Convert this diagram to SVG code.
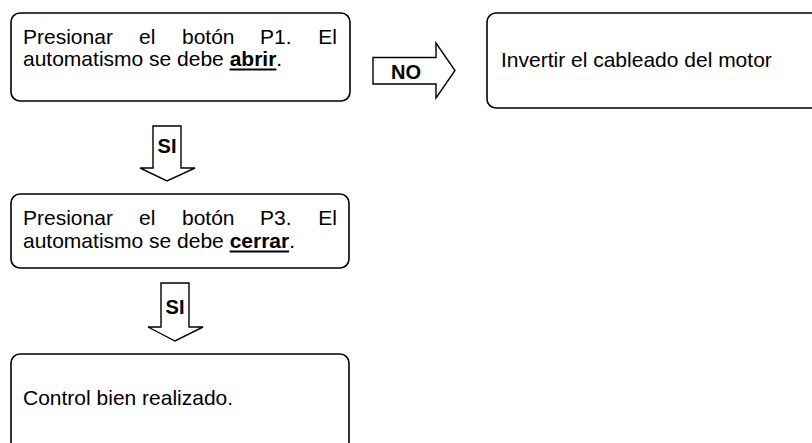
<svg xmlns="http://www.w3.org/2000/svg" width="812" height="443" viewBox="0 0 812 443">
<style>
.box{fill:#fff;stroke:#000;stroke-width:1.6}
.arrow{fill:#fff;stroke:#000;stroke-width:1.4;stroke-linejoin:miter}
.t{font-family:"Liberation Sans",Arial,sans-serif;font-size:21px;fill:#000}
.lbl{font-family:"Liberation Sans",Arial,sans-serif;font-size:20px;font-weight:bold;fill:#000;text-anchor:middle}
.b{font-weight:bold}
</style>
<rect width="812" height="443" fill="#fff"/>
<g id="connectors">
<g id="arrow-no">
<polygon class="arrow" points="373,57.5 436,57.5 436,43 455,70.5 436,98 436,84 373,84"/>
<text class="lbl" x="406" y="79">NO</text>
</g>
<g id="arrow-si1">
<polygon class="arrow" points="153,126 181,126 181,168 195,168 167,181 140,168 153,168"/>
<text class="lbl" x="167" y="153">SI</text>
</g>
<g id="arrow-si2">
<polygon class="arrow" points="161,283 189,283 189,327 203,327 175,341 148,327 161,327"/>
<text class="lbl" x="175" y="314">SI</text>
</g>
</g>
<g id="node-p1">
<rect class="box" x="11" y="13" width="339" height="88" rx="9"/>
<text class="t" y="44"><tspan x="23">Presionar</tspan><tspan x="139">el</tspan><tspan x="182">botón</tspan><tspan x="260">P1.</tspan><tspan x="337" text-anchor="end">El</tspan></text>
<text class="t" x="23" y="66">automatismo se debe <tspan class="b">abrir</tspan>.</text>
<rect x="229.6" y="68.5" width="46.8" height="2" fill="#000"/>
</g>
<g id="node-invertir">
<rect class="box" x="487" y="13" width="340" height="95" rx="9"/>
<text class="t" x="501" y="67">Invertir el cableado del motor</text>
</g>
<g id="node-p3">
<rect class="box" x="11" y="194" width="338" height="74" rx="9"/>
<text class="t" y="225"><tspan x="23">Presionar</tspan><tspan x="139">el</tspan><tspan x="182">botón</tspan><tspan x="260">P3.</tspan><tspan x="337" text-anchor="end">El</tspan></text>
<text class="t" x="23" y="248">automatismo se debe <tspan class="b">cerrar</tspan>.</text>
<rect x="229.6" y="250.5" width="59.5" height="2" fill="#000"/>
</g>
<g id="node-control">
<rect class="box" x="11" y="354" width="338" height="110" rx="9"/>
<text class="t" x="23" y="405">Control bien realizado.</text>
</g>
</svg>
